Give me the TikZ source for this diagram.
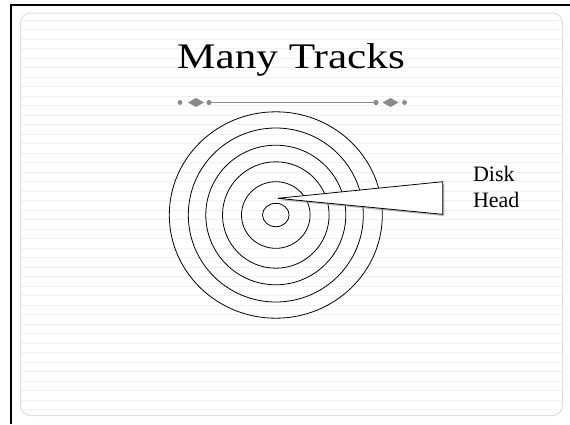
\documentclass[tikz,border=0pt]{standalone}
\usepackage{fontspec}
\setmainfont{Liberation Serif}
\definecolor{orn}{HTML}{8A8A8A}
\definecolor{rule}{HTML}{F1F1F1}
\definecolor{innerframe}{HTML}{DDDDDD}
\tikzset{
  track/.style={draw=black, line width=0.8pt},
  ornline/.style={draw=orn, line width=1.2pt},
  orndot/.style={fill=orn},
  headshape/.style={draw=black, line width=0.8pt, fill=white},
  headshadow/.style={fill=black!45, opacity=0.6},
  lbl/.style={font=\fontsize{22}{26}\selectfont, inner sep=0pt, anchor=base west}
}
\begin{document}
\begin{tikzpicture}[x=1pt,y=-1pt]
\useasboundingbox (0,0) rectangle (570,424);
\fill[white] (0,0) rectangle (570,424);
% faint ruled lines
\foreach \yy in {20,29.5,...,410} {\draw[rule, line width=0.6pt] (21,\yy) -- (562,\yy);}
% inner light frame
\draw[innerframe, line width=1pt, rounded corners=10pt] (20.5,13) rectangle (562.5,415.5);
% outer black frame
\draw[black, line width=2pt] (11,424) -- (11,4.5) -- (570,4.5);
% title
\node[inner sep=0pt, anchor=base] (title) at (291,68.3) {\scalebox{1.2}[1]{\fontsize{36}{40}\selectfont Many Tracks}};
% ornament
\coordinate (ol) at (209,102.5);
\coordinate (or) at (376,102.5);
\draw[ornline] (ol) -- (or);
\fill[orndot] (ol) circle (2.6);
\fill[orndot] (or) circle (2.6);
\fill[orndot] (180,102.5) circle (2.4);
\fill[orndot] (404.5,102.5) circle (2.4);
\fill[orndot] (188,102.5) -- (196,98) -- (204,102.5) -- (196,107) -- cycle;
\fill[orndot] (382.5,102.5) -- (390.5,98) -- (398.5,102.5) -- (390.5,107) -- cycle;
% tracks
\coordinate (c) at (275.8,215);
\draw[track] (c) ellipse [x radius=106.5, y radius=103.2];
\draw[track] (c) ellipse [x radius=87.5, y radius=87];
\draw[track] (c) ellipse [x radius=70, y radius=69.8];
\draw[track] (c) ellipse [x radius=53.3, y radius=53.2];
\draw[track] (c) ellipse [x radius=34.3, y radius=33.3];
\draw[track] (c) ellipse [x radius=13.3, y radius=11.7];
% disk head
\coordinate (tip) at (277.7,198.3);
\coordinate (ht) at (442.7,181.7);
\coordinate (hb) at (442.7,214.3);
\fill[headshadow] ([shift={(1.6,1.8)}]tip) -- ([shift={(1.6,1.8)}]ht) -- ([shift={(1.6,1.8)}]hb) -- cycle;
\draw[headshape] (tip) -- (ht) -- (hb) -- cycle;
% label
\node[lbl] (disk) at (472.8,181) {Disk};
\node[lbl] (head) at (472.8,207.3) {Head};
\end{tikzpicture}
\end{document}
